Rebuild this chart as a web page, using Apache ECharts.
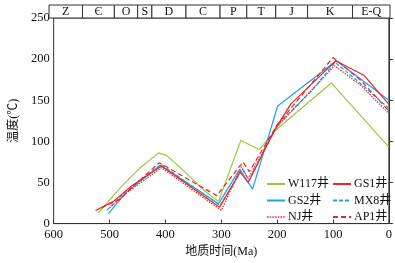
<!DOCTYPE html>
<html><head><meta charset="utf-8">
<script src="https://cdn.jsdelivr.net/npm/echarts@6/dist/echarts.min.js"></script>
<style>html,body{margin:0;padding:0;background:#fff}#c{width:395px;height:263px}</style>
</head><body><div id="c"></div>
<script>
// Geological periods: [older boundary (Ma), younger boundary (Ma), label]
const periodNames = ["Z","Є","O","S","D","C","P","T","J","K","E-Q"];
const periodBounds = [600,541,485,444,419,359,299,252,201,145,66,0];

const xTicks = [600,500,400,300,200,100,0];
const yTicks = [0,50,100,150,200,250];

// [age Ma, temperature °C]
const W117 = [[520,13],[480,44],[445,68],[412,86],[398,83],[370,66],[330,40],[305,27],[265,101],[232,90],[205,112],[176,129],[103,171],[0,93]];
const GS1  = [[525,16],[493,27],[460,46],[407,70],[303,20],[266,63],[252,50],[205,113],[176,145],[95,198],[44,180],[0,145]];
const GS2  = [[502,12],[470,38],[409,71],[305,24],[267,66],[244,42],[199,143],[94,198],[0,150]];
const MX8  = [[505,16],[470,40],[408,72],[302,22],[262,66],[250,52],[200,120],[140,160],[96,196],[50,170],[0,140]];
const NJ   = [[500,19],[470,37],[407,68],[300,16],[264,69],[252,55],[200,118],[97,192],[50,168],[0,134]];
const AP1  = [[515,19],[481,30],[452,49],[411,74],[308,34],[261,75],[250,63],[200,120],[100,202],[50,174],[0,137]];

const GREEN = '#9dc83a', RED = '#e8262d', BLUE = '#19a3e6';
const FONT = '"Liberation Serif","Noto Sans CJK SC",serif';

const periods = periodNames.map((n,i)=>[periodBounds[i], periodBounds[i+1], n]);

const chart = echarts.init(document.getElementById('c'), null, {renderer:'canvas'});
function line(name, data, color, type){
  return {name, type:'line', data, symbol:'none', smooth:false, xAxisIndex:0, yAxisIndex:0,
    lineStyle:{color, width:1.2, type}, itemStyle:{color}, emphasis:{disabled:true}};
}
const legendCommon = {orient:'vertical', itemWidth:18, itemHeight:10, itemGap:4.5,
  itemStyle:{opacity:0},
  textStyle:{fontFamily:FONT, fontSize:12, color:'#111', padding:[0,0,0,-2]}, padding:0, selectedMode:false};

chart.setOption({
  animation:false,
  grid:[
    {left:49, right:5, top:18, bottom:35, show:true, borderColor:'#333', borderWidth:1},
    {left:49, right:5, top:5, height:13, show:false}
  ],
  xAxis:[
    {type:'value', gridIndex:0, min:0, max:600, interval:100, inverse:true,
     axisLine:{lineStyle:{color:'#333'}}, axisTick:{inside:true, length:4, lineStyle:{color:'#333'}},
     splitLine:{show:false},
     axisLabel:{fontFamily:FONT, fontSize:12.5, color:'#111', margin:5,
       formatter:v=> xTicks.includes(v)? String(v):''},
     name:'地质时间(Ma)', nameLocation:'middle', nameGap:19,
     nameTextStyle:{fontFamily:FONT, fontSize:12, color:'#111'}},
    {type:'value', gridIndex:1, min:0, max:600, inverse:true, show:false}
  ],
  yAxis:[
    {type:'value', gridIndex:0, min:0, max:250, interval:50,
     axisLine:{show:true, lineStyle:{color:'#333'}}, axisTick:{show:true, inside:true, length:4, lineStyle:{color:'#333'}},
     splitLine:{show:false},
     axisLabel:{fontFamily:FONT, fontSize:12.5, color:'#111', margin:4,
       formatter:v=> yTicks.includes(v)? String(v):''},
     name:'温度(℃)', nameLocation:'middle', nameGap:32,
     nameTextStyle:{fontFamily:FONT, fontSize:12, color:'#111'}},
    {type:'value', gridIndex:1, min:0, max:1, show:false}
  ],
  legend:[
    Object.assign({left:266, top:178, data:['W117井','GS2井',{name:'NJ井', lineStyle:{color:RED, type:[1.5,1.2], width:1.3}}]}, legendCommon),
    Object.assign({left:332, top:178, data:['GS1井','MX8井','AP1井']}, legendCommon)
  ],
  series:[
    line('W117井', W117, GREEN, 'solid'),
    line('GS2井', GS2, BLUE, 'solid'),
    line('MX8井', MX8, BLUE, [4,2]),
    line('NJ井', NJ, RED, [1.5,1.2]),
    line('AP1井', AP1, RED, [5,3]),
    line('GS1井', GS1, RED, 'solid'),
    {type:'custom', xAxisIndex:1, yAxisIndex:1, data:periods, silent:true,
     renderItem:function(params, api){
       const p1 = api.coord([api.value(0), 1]);
       const p2 = api.coord([api.value(1), 0]);
       const x = Math.min(p1[0],p2[0]), w = Math.abs(p2[0]-p1[0]);
       const y = Math.min(p1[1],p2[1]), h = Math.abs(p2[1]-p1[1]);
       return {type:'group', children:[
         {type:'rect', shape:{x:x, y:y, width:w, height:h},
          style:{fill:'#fff', stroke:'#333', lineWidth:1}},
         {type:'text', style:{text:periods[params.dataIndex][2], x:x+w/2, y:y+h/2+0.5,
           align:'center', verticalAlign:'middle', font:'12px '+FONT, fill:'#111'}}
       ]};
     }}
  ]
});
</script></body></html>
